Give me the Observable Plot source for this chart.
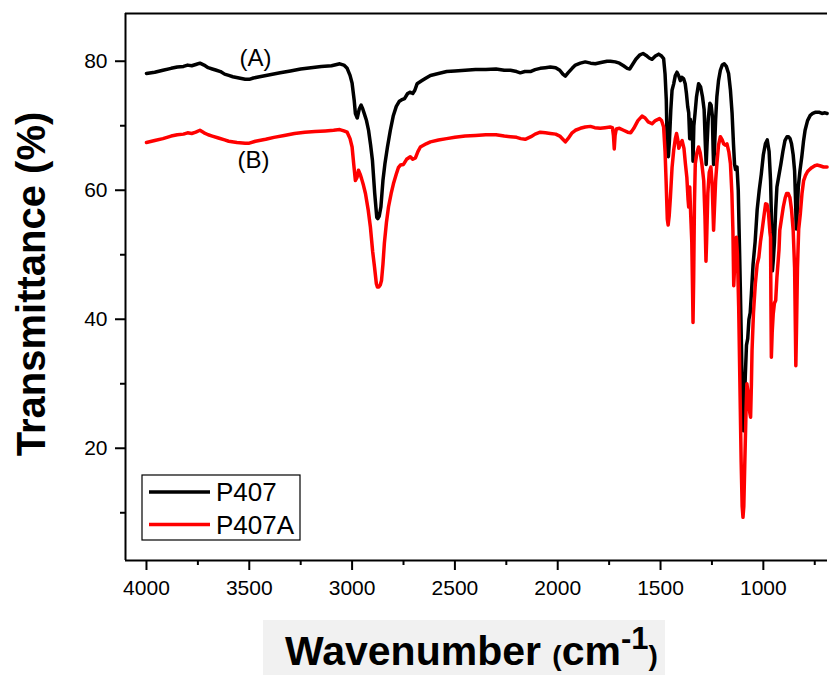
<!DOCTYPE html>
<html>
<head>
<meta charset="utf-8">
<script src="https://cdn.jsdelivr.net/npm/d3@7"></script>
<script src="https://cdn.jsdelivr.net/npm/@observablehq/plot@0.6"></script>
<style>
  html, body { margin: 0; padding: 0; background: #fff; }
</style>
</head>
<body>
<div id="chart"></div>
<script>
// ---- Data ----
const seriesNames = ["P407", "P407A"];
const seriesColors = ["#000000", "#ff0000"];

const waveA = [4000,3960,3920,3880,3850,3820,3800,3780,3760,3740,3720,3700,3680,3660,3640,3620,3600,3580,3550,3520,3500,3480,3450,3400,3350,3300,3250,3200,3150,3100,3060,3040,3024,3010,3000,2990,2984,2975,2965,2956,2948,2940,2930,2920,2910,2901,2890,2880,2875,2868,2860,2850,2840,2828,2814,2800,2785,2770,2760,2745,2730,2717,2705,2695,2684,2660,2640,2619,2580,2540,2500,2450,2400,2350,2300,2260,2230,2200,2182,2160,2133,2110,2085,2060,2036,2010,1990,1975,1963,1950,1930,1914,1890,1866,1840,1817,1790,1760,1744,1720,1700,1680,1662,1650,1640,1620,1600,1585,1570,1555,1541,1525,1509,1495,1485,1478,1472,1467,1462,1457,1450,1444,1436,1428,1420,1412,1404,1396,1388,1380,1374,1368,1363,1358,1355,1350,1346,1342,1338,1332,1325,1315,1305,1296,1288,1282,1278,1274,1268,1260,1254,1248,1244,1242,1238,1232,1226,1218,1209,1200,1190,1180,1169,1160,1152,1145,1140,1135,1128,1122,1118,1112,1106,1100,1096,1092,1088,1082,1076,1070,1064,1058,1050,1040,1030,1020,1010,1000,990,981,972,965,960,956,952,946,940,934,926,915,905,895,885,878,870,863,855,848,843,840,836,830,822,813,805,797,785,772,760,745,730,715,700,690];
const transA = [78.1,78.3,78.6,78.9,79.1,79.2,79.4,79.3,79.5,79.7,79.4,79.0,78.8,78.6,78.4,78.0,77.8,77.6,77.4,77.2,77.2,77.4,77.6,77.9,78.2,78.5,78.8,79.0,79.2,79.3,79.6,79.4,78.9,77.8,76.6,74.0,71.9,71.2,72.6,73.2,72.6,71.8,70.8,69.3,67.0,64.6,59.5,55.8,55.6,56.0,57.4,61.5,64.2,66.7,69.3,71.5,73.0,73.8,74.0,74.2,75.0,75.2,75.0,75.5,76.5,77.0,77.4,77.8,78.1,78.4,78.5,78.6,78.7,78.7,78.8,78.6,78.6,78.4,78.2,78.4,78.4,78.7,78.9,79.0,79.1,79.0,78.6,78.0,77.7,78.2,78.9,79.4,79.7,79.9,79.7,79.6,79.8,80.0,80.0,79.9,79.7,79.3,78.9,78.8,79.3,80.3,81.0,81.2,80.9,80.5,80.3,80.8,81.1,80.8,80.4,78.0,74.0,66.0,65.2,67.5,72.5,75.5,76.5,77.8,78.3,77.8,77.0,77.5,77.3,76.5,75.0,73.0,72.0,68.0,71.0,68.5,70.5,64.5,70.0,72.0,74.5,76.5,76.0,74.5,72.5,67.0,64.0,67.0,71.0,73.5,73.2,71.5,66.0,64.0,66.0,71.0,74.5,77.0,78.6,79.4,79.6,79.2,78.1,75.5,71.9,67.0,64.0,63.2,63.6,60.0,54.0,45.0,35.0,24.0,22.7,26.0,31.0,36.0,37.0,40.0,41.0,44.0,48.5,52.0,57.0,60.0,62.5,65.5,67.2,67.8,66.0,61.5,55.0,47.5,49.0,52.0,57.0,60.5,62.0,64.0,66.0,67.7,68.3,68.3,68.0,67.2,65.5,63.0,58.0,54.0,56.0,60.5,63.0,65.2,67.5,69.3,70.8,71.6,71.9,72.1,72.1,71.9,72.0,71.9];

const waveB = [4000,3960,3920,3880,3850,3820,3800,3780,3760,3740,3720,3700,3680,3650,3620,3600,3560,3520,3500,3470,3420,3380,3330,3280,3230,3180,3130,3090,3060,3040,3024,3010,3000,2992,2984,2976,2969,2961,2954,2945,2935,2922,2911,2900,2891,2882,2877,2870,2863,2857,2850,2843,2833,2823,2810,2799,2785,2775,2765,2750,2735,2717,2705,2692,2680,2668,2640,2619,2580,2540,2500,2450,2400,2350,2300,2260,2230,2200,2180,2158,2130,2110,2085,2060,2036,2010,1990,1975,1963,1950,1930,1914,1890,1866,1841,1820,1793,1770,1745,1734,1729,1725,1721,1715,1700,1680,1660,1645,1630,1610,1590,1575,1560,1541,1525,1505,1495,1485,1478,1473,1467,1463,1458,1452,1444,1436,1428,1422,1416,1411,1404,1395,1386,1379,1372,1366,1363,1358,1353,1348,1344,1342,1339,1335,1331,1323,1315,1307,1299,1290,1284,1279,1276,1270,1263,1255,1249,1245,1242,1238,1232,1226,1218,1209,1200,1193,1185,1177,1168,1160,1153,1148,1144,1140,1136,1131,1126,1120,1114,1108,1103,1099,1095,1090,1084,1080,1072,1066,1062,1058,1055,1048,1039,1030,1022,1014,1006,997,989,982,975,968,965,963,961,957,952,946,940,934,924,920,912,903,894,887,879,871,863,855,848,844,842,839,834,828,820,812,804,795,785,779,765,750,740,725,707,690];
const transB = [67.4,67.7,68.0,68.4,68.6,68.7,68.9,68.8,69.0,69.3,68.9,68.6,68.4,68.1,67.8,67.6,67.4,67.3,67.3,67.6,67.9,68.2,68.5,68.8,69.0,69.1,69.2,69.3,69.4,69.2,69.0,68.0,66.7,64.0,61.5,62.0,63.1,62.5,61.8,60.8,59.5,57.0,54.3,50.5,48.1,45.5,45.0,45.0,45.3,46.0,48.5,51.8,55.0,57.4,59.5,61.0,62.5,63.5,63.9,64.0,64.8,65.2,64.8,65.0,66.0,66.7,67.2,67.5,67.8,68.0,68.2,68.4,68.5,68.6,68.6,68.4,68.3,68.2,68.0,67.9,68.3,68.7,69.0,68.9,68.8,68.7,68.4,67.9,67.5,68.0,68.9,69.3,69.6,69.8,69.9,69.7,69.6,69.7,69.8,69.7,68.5,66.4,68.5,69.5,69.6,69.3,69.0,68.9,69.6,70.8,71.5,71.2,70.6,70.3,70.8,71.1,70.8,69.8,66.0,61.5,55.5,54.6,56.0,58.9,63.5,66.2,68.0,68.8,67.8,66.5,67.2,67.7,66.5,64.1,62.0,58.5,57.4,60.5,56.0,52.0,44.0,39.5,46.0,58.0,64.1,65.8,66.7,65.8,64.1,61.5,56.0,49.0,52.0,59.5,62.8,63.6,61.0,57.0,53.8,57.0,61.5,64.1,67.0,68.3,67.8,67.2,67.0,67.2,66.0,64.1,59.5,53.8,45.2,48.0,51.5,52.7,50.0,42.0,30.0,18.0,11.0,9.3,11.0,18.0,26.0,30.0,28.0,25.5,24.8,30.0,35.2,41.0,45.5,48.5,49.6,52.0,53.8,56.0,57.9,57.8,56.5,53.5,52.7,42.0,34.1,38.0,40.8,42.5,42.9,46.5,50.7,53.8,55.5,57.4,58.8,59.5,59.5,58.9,57.0,53.8,48.0,38.0,32.8,38.0,48.0,54.0,56.4,59.5,61.5,62.3,62.9,63.1,63.5,63.8,63.9,63.8,63.6,63.6];

const xMajorTicks = [4000, 3500, 3000, 2500, 2000, 1500, 1000];
const xMinorTicks = [3750, 3250, 2750, 2250, 1750, 1250, 750];
const yMajorTicks = [20, 40, 60, 80];
const yMinorTicks = [10, 30, 50, 70];
const annotations = [{w: 3470, t: 80.5, label: "(A)"}, {w: 3480, t: 64.6, label: "(B)"}];

// ---- Build tables ----
const dataA = waveA.map((w, i) => ({w, t: transA[i], s: seriesNames[0]}));
const dataB = waveB.map((w, i) => ({w, t: transB[i], s: seriesNames[1]}));

const xDomain = [4102, 688];
const yDomain = [2.6, 87.4];
const font = "'Liberation Sans', Arial, Helvetica, sans-serif";

const plot = Plot.plot({
  width: 838,
  height: 675,
  marginLeft: 125,
  marginRight: 11,
  marginTop: 13,
  marginBottom: 115,
  style: {fontFamily: font, background: "#fff", color: "#000"},
  x: {domain: xDomain},
  y: {domain: yDomain},
  marks: [
    Plot.axisX({ticks: xMajorTicks, tickSize: 10, tickPadding: 10, strokeWidth: 2, fontSize: 21, tickFormat: d => String(d), label: null}),
    Plot.axisX({ticks: xMinorTicks, tickSize: 5, strokeWidth: 2, tickFormat: () => "", label: null}),
    Plot.axisY({ticks: yMajorTicks, tickSize: 10, tickPadding: 8, strokeWidth: 2, fontSize: 21, tickFormat: d => String(d), label: null}),
    Plot.axisY({ticks: yMinorTicks, tickSize: 5, strokeWidth: 2, tickFormat: () => "", label: null}),
    Plot.line(dataA, {x: "w", y: "t", stroke: seriesColors[0], strokeWidth: 3.5, strokeLinejoin: "round"}),
    Plot.line(dataB, {x: "w", y: "t", stroke: seriesColors[1], strokeWidth: 3.5, strokeLinejoin: "round"}),
    Plot.ruleY([yDomain[0]], {stroke: "#000", strokeWidth: 2}),
    Plot.ruleY([yDomain[1]], {stroke: "#000", strokeWidth: 2}),
    Plot.ruleX([xDomain[0]], {stroke: "#000", strokeWidth: 2}),
    Plot.text(annotations, {x: "w", y: "t", text: "label", fontSize: 24, fill: "#000", textAnchor: "middle"})
  ]
});

document.getElementById("chart").appendChild(plot);

// ---- Legend, titles ----
const svg = d3.select(plot);

// light band behind x title
svg.insert("rect", ":first-child")
  .attr("x", 263).attr("y", 620).attr("width", 402).attr("height", 55)
  .attr("fill", "#f1f1f1");

const lg = svg.append("g").attr("font-family", font).attr("text-anchor", "start");
lg.append("rect").attr("x", 142).attr("y", 475).attr("width", 158).attr("height", 65)
  .attr("fill", "#fff").attr("stroke", "#000").attr("stroke-width", 1.2);
seriesNames.forEach((name, i) => {
  const yy = 492 + i * 32.5;
  lg.append("line").attr("x1", 149).attr("x2", 210).attr("y1", yy).attr("y2", yy)
    .attr("stroke", seriesColors[i]).attr("stroke-width", 3.5);
  lg.append("text").attr("x", 216).attr("y", yy).attr("dy", "0.36em")
    .attr("text-anchor", "start")
    .attr("font-size", 26).attr("fill", "#000").text(name);
});

// y title
svg.append("text")
  .attr("transform", "translate(45,284) rotate(-90)")
  .attr("text-anchor", "middle")
  .attr("font-family", font).attr("font-weight", "bold").attr("font-size", 40)
  .attr("fill", "#000")
  .text("Transmittance (%)");

// x title
const xt = svg.append("text")
  .attr("x", 285).attr("y", 665)
  .attr("text-anchor", "start")
  .attr("font-family", font).attr("font-weight", "bold").attr("font-size", 41)
  .attr("fill", "#000");
xt.append("tspan").text("Wavenumber ");
xt.append("tspan").attr("font-size", 28).text("(");
xt.append("tspan").text("cm");
xt.append("tspan").attr("font-size", 31).attr("dy", -16).text("-1");
xt.append("tspan").attr("font-size", 28).attr("dy", 16).text(")");
</script>
</body>
</html>
